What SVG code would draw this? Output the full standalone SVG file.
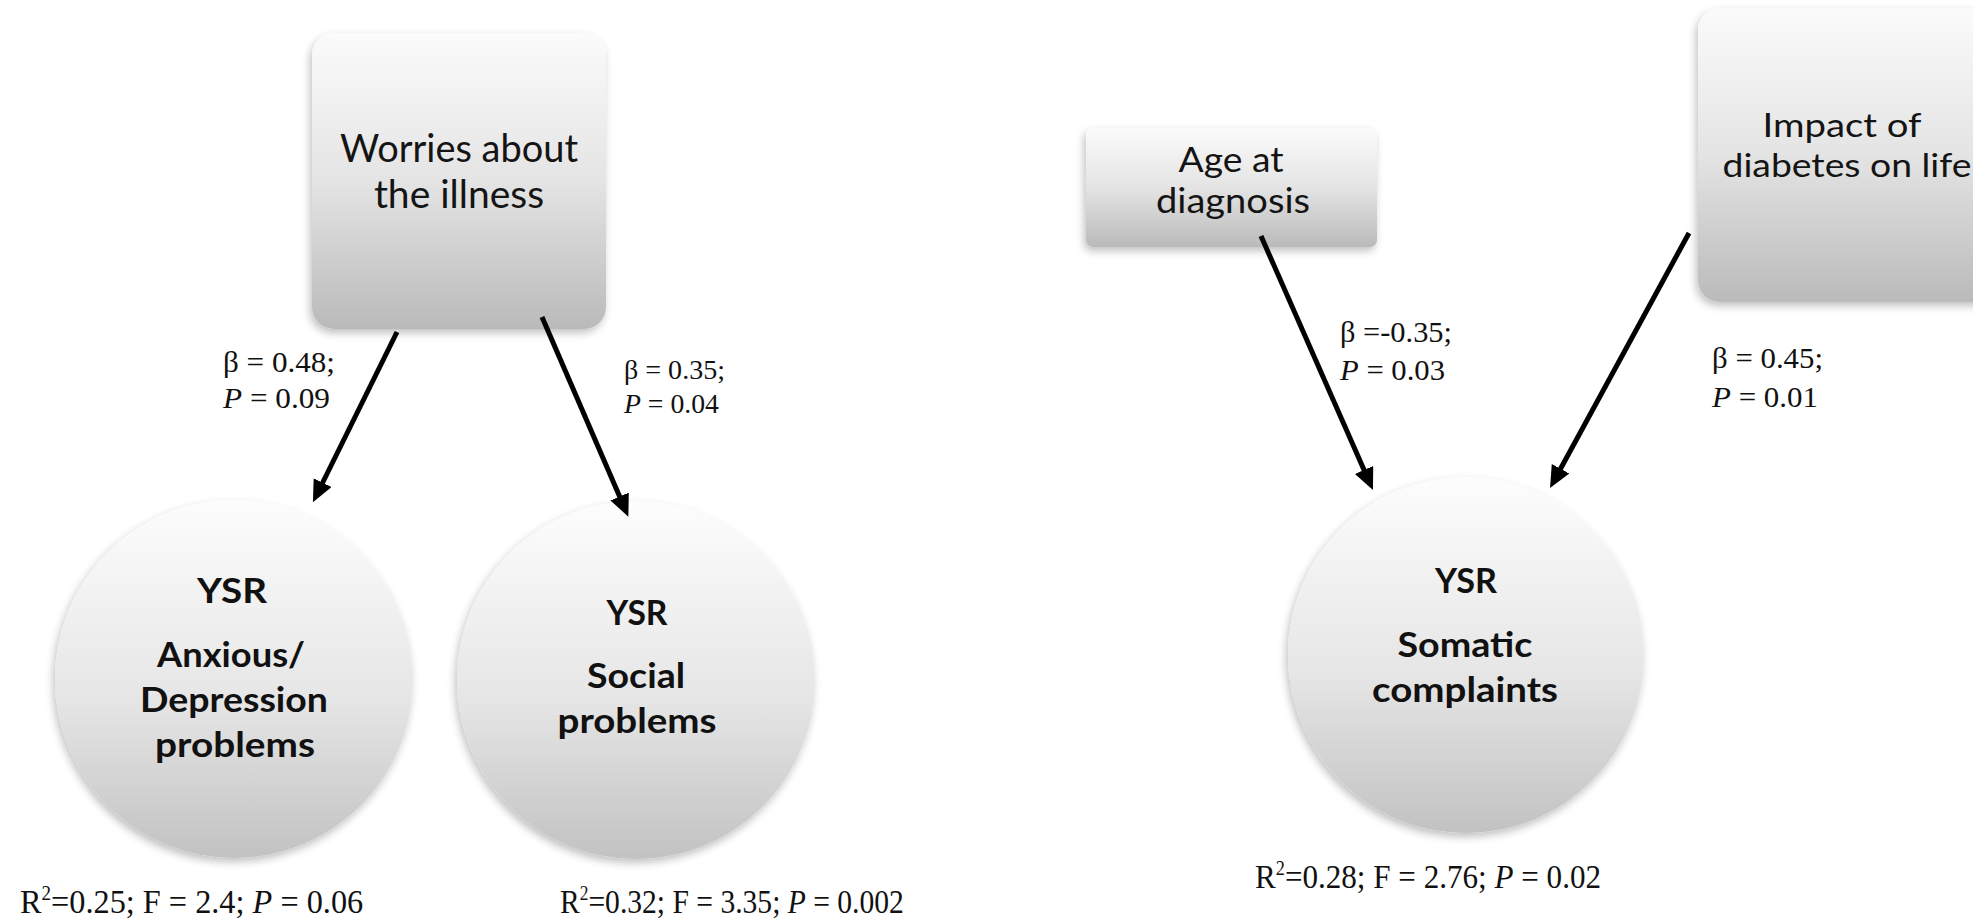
<svg xmlns="http://www.w3.org/2000/svg" width="1973" height="923" viewBox="0 0 1973 923">
<style>
.box{font-family:Lato,"Liberation Sans",sans-serif;fill:#141414;text-anchor:middle}
.circ{font-family:Lato,"Liberation Sans",sans-serif;font-weight:bold;fill:#111;text-anchor:middle}
.tnr{font-family:"Liberation Serif","Times New Roman",serif;fill:#111}
.edge{stroke:#000;stroke-width:5;fill:none;marker-end:url(#ah)}
</style>
<defs>
<linearGradient id="gBox" x1="0" y1="0" x2="0" y2="1">
<stop offset="0" stop-color="#fbfbfb"/>
<stop offset="0.5" stop-color="#e4e4e4"/>
<stop offset="1" stop-color="#bababa"/>
</linearGradient>
<linearGradient id="gCirc" x1="0" y1="0" x2="0" y2="1">
<stop offset="0" stop-color="#fdfdfd"/>
<stop offset="0.55" stop-color="#e6e6e6"/>
<stop offset="1" stop-color="#c2c2c2"/>
</linearGradient>
<filter id="sh" x="-10%" y="-10%" width="120%" height="125%">
<feGaussianBlur in="SourceAlpha" stdDeviation="4"/>
<feOffset dx="-2" dy="4" result="b"/>
<feComponentTransfer><feFuncA type="linear" slope="0.25"/></feComponentTransfer>
<feMerge><feMergeNode/><feMergeNode in="SourceGraphic"/></feMerge>
</filter>
<marker id="ah" markerUnits="userSpaceOnUse" markerWidth="24" markerHeight="22" refX="6" refY="10" orient="auto" viewBox="0 0 24 22">
<path d="M0,0 L22,10 L0,20 z" fill="#000"/>
</marker>
</defs>
<rect width="1973" height="923" fill="#fff"/>

<g id="worries">
<rect x="312" y="33" width="294" height="296" rx="22" fill="url(#gBox)" filter="url(#sh)"/>
<text class="box" font-size="39" x="459" y="162" textLength="238" lengthAdjust="spacingAndGlyphs">Worries about</text>
<text class="box" font-size="39" x="459" y="208">the illness</text>
</g>

<g id="age">
<rect x="1086" y="128" width="291" height="119" rx="7" fill="url(#gBox)" filter="url(#sh)"/>
<text class="box" font-size="34" x="1231" y="172" textLength="105" lengthAdjust="spacingAndGlyphs">Age at</text>
<text class="box" font-size="34" x="1233" y="213" textLength="154" lengthAdjust="spacingAndGlyphs">diagnosis</text>
</g>

<g id="impact">
<rect x="1698" y="8" width="300" height="294" rx="22" fill="url(#gBox)" filter="url(#sh)"/>
<text class="box" font-size="33" x="1842" y="137" textLength="159" lengthAdjust="spacingAndGlyphs">Impact of</text>
<text class="box" font-size="33" x="1847" y="177" textLength="249" lengthAdjust="spacingAndGlyphs">diabetes on life</text>
</g>

<g id="anxious">
<circle cx="234" cy="679" r="179" fill="url(#gCirc)" filter="url(#sh)"/>
<text class="circ" font-size="34" x="232" y="603" textLength="70" lengthAdjust="spacingAndGlyphs">YSR</text>
<text class="circ" font-size="34" x="231" y="667" textLength="148" lengthAdjust="spacingAndGlyphs">Anxious/</text>
<text class="circ" font-size="34" x="234" y="712" textLength="188" lengthAdjust="spacingAndGlyphs">Depression</text>
<text class="circ" font-size="34" x="235" y="757" textLength="160" lengthAdjust="spacingAndGlyphs">problems</text>
<text class="tnr" font-size="34" transform="translate(20 913) scale(0.95 1)">R<tspan font-size="20" dy="-13">2</tspan><tspan dy="13">=0.25; F = 2.4; </tspan><tspan font-style="italic">P</tspan> = 0.06</text>
</g>

<g id="social">
<circle cx="636" cy="680" r="179" fill="url(#gCirc)" filter="url(#sh)"/>
<text class="circ" font-size="34" x="637" y="625" textLength="61" lengthAdjust="spacingAndGlyphs">YSR</text>
<text class="circ" font-size="34" x="636" y="688" textLength="98" lengthAdjust="spacingAndGlyphs">Social</text>
<text class="circ" font-size="34" x="637" y="733" textLength="159" lengthAdjust="spacingAndGlyphs">problems</text>
<text class="tnr" font-size="34" transform="translate(560 913) scale(0.87 1)">R<tspan font-size="20" dy="-13">2</tspan><tspan dy="13">=0.32; F = 3.35; </tspan><tspan font-style="italic">P</tspan> = 0.002</text>
</g>

<g id="somatic">
<circle cx="1466" cy="655" r="178" fill="url(#gCirc)" filter="url(#sh)"/>
<text class="circ" font-size="34" x="1466" y="593" textLength="62" lengthAdjust="spacingAndGlyphs">YSR</text>
<text class="circ" font-size="34" x="1465" y="657" textLength="135" lengthAdjust="spacingAndGlyphs">Somatic</text>
<text class="circ" font-size="34" x="1465" y="702" textLength="186" lengthAdjust="spacingAndGlyphs">complaints</text>
<text class="tnr" font-size="34" transform="translate(1255 888) scale(0.915 1)">R<tspan font-size="20" dy="-13">2</tspan><tspan dy="13">=0.28; F = 2.76; </tspan><tspan font-style="italic">P</tspan> = 0.02</text>
</g>

<g id="connectors">
<line class="edge" x1="397" y1="332" x2="320" y2="488"/>
<line class="edge" x1="542" y1="317" x2="622" y2="502"/>
<line class="edge" x1="1261" y1="236" x2="1366.5" y2="475.4"/>
<line class="edge" x1="1689" y1="233" x2="1557.7" y2="474"/>
<g class="tnr" font-size="30">
<text x="223" y="372" textLength="112" lengthAdjust="spacingAndGlyphs">β = 0.48;</text>
<text x="223" y="408" textLength="107" lengthAdjust="spacingAndGlyphs"><tspan font-style="italic">P</tspan> = 0.09</text>
<text x="624" y="379" font-size="28" textLength="101" lengthAdjust="spacingAndGlyphs">β = 0.35;</text>
<text x="624" y="413" font-size="28" textLength="95" lengthAdjust="spacingAndGlyphs"><tspan font-style="italic">P</tspan> = 0.04</text>
<text x="1340" y="342" textLength="112" lengthAdjust="spacingAndGlyphs">β =-0.35;</text>
<text x="1340" y="380" textLength="105" lengthAdjust="spacingAndGlyphs"><tspan font-style="italic">P</tspan> = 0.03</text>
<text x="1712" y="368" textLength="111" lengthAdjust="spacingAndGlyphs">β = 0.45;</text>
<text x="1712" y="407" textLength="106" lengthAdjust="spacingAndGlyphs"><tspan font-style="italic">P</tspan> = 0.01</text>
</g>
</g>
</svg>
